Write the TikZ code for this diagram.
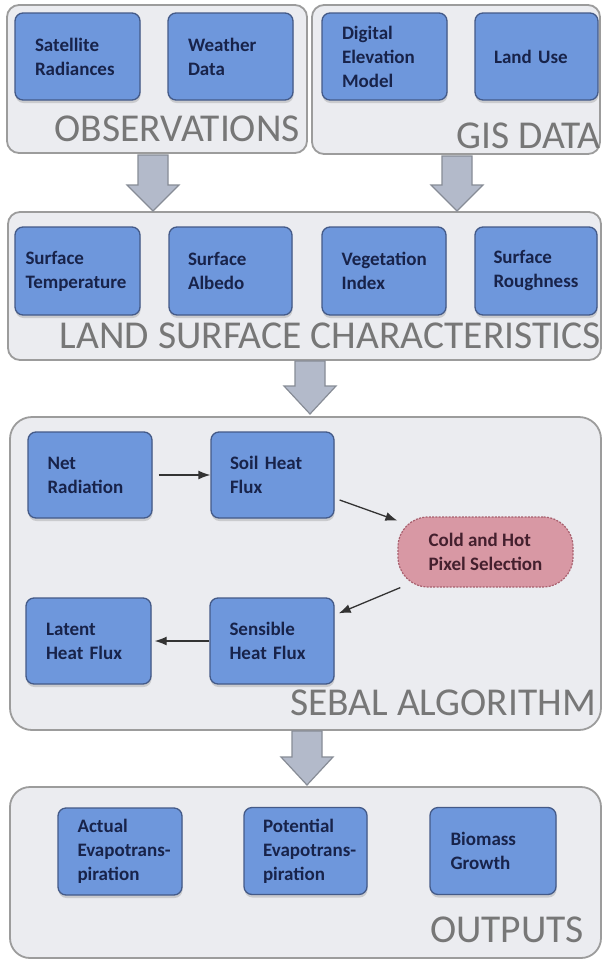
\documentclass[tikz,border=0pt]{standalone}
\usepackage{fontspec}
\setmainfont{Carlito}
\usetikzlibrary{arrows.meta,shadows}
\hyphenpenalty=10000 \exhyphenpenalty=10000
\definecolor{panelfill}{HTML}{EBECF0}
\definecolor{paneldraw}{HTML}{9C9C9C}
\definecolor{boxfill}{HTML}{6E97DC}
\definecolor{boxdraw}{HTML}{445A88}
\definecolor{boxtext}{HTML}{18234A}
\definecolor{ttlcol}{HTML}{777777}
\definecolor{arrfill}{HTML}{B3BACA}
\definecolor{arrdraw}{HTML}{878C96}
\definecolor{pinkfill}{HTML}{D898A4}
\definecolor{pinkdraw}{HTML}{A8606E}
\definecolor{pinktext}{HTML}{44202E}
\newcommand\blkarrow[4]{%
  \draw[barrow] (#1-15,#2) -- (#1+15,#2) -- (#1+15,#3) -- (#1+26,#3) -- (#1,#4) -- (#1-26,#3) -- (#1-15,#3) -- cycle;}
\begin{document}
\begin{tikzpicture}[x=1pt,y=-1pt,
  panel/.style={draw=paneldraw,fill=panelfill,line width=1.8pt,rounded corners=12pt},
  bx/.style={draw=boxdraw,fill=boxfill,line width=1.3pt,rounded corners=8pt,
    minimum height=87pt,minimum width=125pt,inner xsep=0pt,inner ysep=0pt,
    text width=85pt,align=left,text=boxtext,
    font=\fontsize{19}{24}\selectfont\bfseries,
    drop shadow={shadow xshift=0.5pt,shadow yshift=-3pt,opacity=0.3}},
  ttl/.style={text=ttlcol,font=\fontsize{39.5}{40}\selectfont,inner sep=0pt,anchor=base east},
  barrow/.style={draw=arrdraw,fill=arrfill,line width=1.2pt,line join=miter},
  conn/.style={draw=black!80,line width=1.3pt,-{Latex[length=12pt,width=9pt]}}
]
\useasboundingbox[fill=white] (0,0) rectangle (602,961);

% panels
\draw[panel] (7,5) rectangle (307,153);
\draw[panel] (312,5) rectangle (600,154);
\draw[panel] (8,212) rectangle (601,360);
\draw[panel,rounded corners=22pt] (10,417) rectangle (601,730);
\draw[panel,rounded corners=20pt] (10,787) rectangle (601,958);

% block arrows
\blkarrow{153}{155}{185}{211}
\blkarrow{457}{156}{185}{211}
\blkarrow{310}{361}{386}{414}
\blkarrow{307}{731}{757}{785}

% titles
\node[ttl] (tobs) at (300,141) {OBSERVATIONS};
\node[ttl] (tgis) at (601,148) {GIS DATA};
\node[ttl] (tlsc) at (601,348) {LAND SURFACE CHARACTERISTICS};
\node[ttl] (tseb) at (596,715) {SEBAL ALGORITHM};
\node[ttl] (tout) at (584,942) {OUTPUTS};

% observations / GIS
\node[bx] (sat) at (77.5,56.5) {Satellite\\Radiances};
\node[bx] (wea) at (230.5,56.5) {Weather\\Data};
\node[bx] (dem) at (384.5,56.5) {Digital\\Elevation\\Model};
\node[bx,minimum width=123pt] (lu) at (536.5,56.5) {Land Use};

% land surface characteristics
\node[bx,minimum height=88pt,text width=104pt] (st) at (77.5,271) {Surface\\Temperature};
\node[bx,minimum height=88pt,minimum width=123pt] (sa) at (230.5,271) {Surface\\Albedo};
\node[bx,minimum height=88pt,minimum width=124pt] (vi) at (384,271) {Vegetation\\Index};
\node[bx,minimum height=88pt,minimum width=122pt] (sr) at (536,271) {Surface\\Roughness};

% SEBAL
\node[bx,minimum height=86pt,minimum width=124pt] (net) at (90,475) {Net\\Radiation};
\node[bx,minimum height=86pt,minimum width=123pt] (soil) at (272.5,475) {Soil Heat\\Flux};
\node[draw=pinkdraw,fill=pinkfill,line width=1.2pt,dash pattern=on 2pt off 1.3pt,
  rounded corners=30pt,minimum width=175pt,minimum height=70pt,align=left,
  text=pinktext,font=\fontsize{19}{24}\selectfont\bfseries] (cold) at (485.5,552) {Cold and Hot\\Pixel Selection};
\node[bx,minimum height=86pt,minimum width=125pt] (lat) at (88.5,641) {Latent\\Heat Flux};
\node[bx,minimum height=86pt,minimum width=124pt] (sens) at (272,641) {Sensible\\Heat Flux};

\draw[conn] ([xshift=6pt]net.east) -- (soil.west);
\draw[conn] ([xshift=5pt,yshift=-25pt]soil.east) -- (cold);
\draw[conn] (cold) -- ([xshift=4pt,yshift=-16pt]sens.north east);
\draw[conn] (sens.west) -- ([xshift=3pt]lat.east);

% outputs
\node[bx,minimum width=124pt] (act) at (120,851.5) {Actual\\Evapotrans-\\piration};
\node[bx,minimum width=123pt] (pot) at (305.5,851) {Potential\\Evapotrans-\\piration};
\node[bx,minimum width=126pt] (bio) at (493,851) {Biomass\\Growth};
\end{tikzpicture}
\end{document}
